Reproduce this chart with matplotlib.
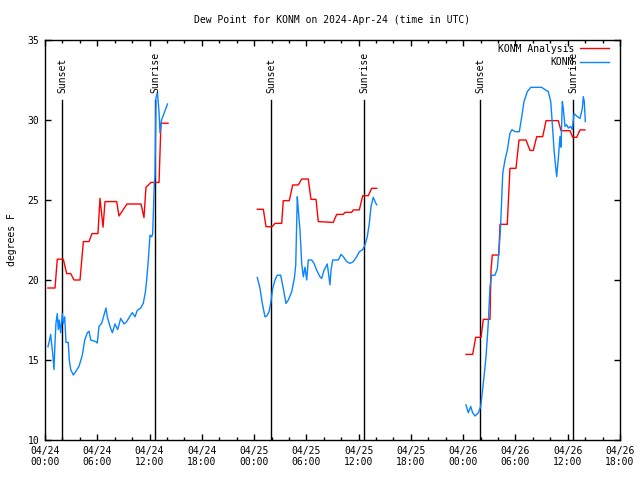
import numpy as np
import matplotlib
matplotlib.use("Agg")
import matplotlib.pyplot as plt
from matplotlib.ticker import MultipleLocator

nan = float("nan")

# hours since 2024-04-24 00:00 UTC, dew point in F; NaN splits the days
ana_hours = [0.34, 1.15, 1.41, 2.10, 2.49, 2.95, 3.33, 4.02, 4.40, 5.05, 5.39, 6.08, 6.31, 6.66,
             6.89, 8.23, 8.49, 9.41, 11.02, 11.36, 11.59, 12.17, 13.09, 13.31, 14.12, nan,
             24.37, 25.06, 25.37, 26.06, 26.40, 27.17, 27.35, 28.04, 28.43, 29.07, 29.47, 30.22,
             30.53, 31.11, 31.37, 33.09, 33.48, 34.24, 34.44, 35.20, 35.39, 36.08, 36.47, 37.11,
             37.50, 38.07, nan,
             48.32, 49.09, 49.44, 50.05, 50.31, 51.08, 51.19, 51.34, 52.08, 52.23, 53.06, 53.37,
             54.06, 54.41, 55.21, 55.67, 56.05, 56.44, 57.13, 57.51, 58.92, 59.23, 60.26, 60.57,
             61.03, 61.41, 61.98]
ana_dewp = [19.5, 19.5, 21.3, 21.3, 20.4, 20.4, 20.0, 20.0, 22.4, 22.4, 22.9, 22.9, 25.1, 23.3,
            24.9, 24.9, 24.0, 24.75, 24.75, 23.9, 25.8, 26.1, 26.1, 29.8, 29.8, nan,
            24.42, 24.42, 23.33, 23.33, 23.54, 23.54, 24.96, 24.96, 25.94, 25.94, 26.31, 26.31,
            25.04, 25.04, 23.65, 23.6, 24.1, 24.1, 24.23, 24.23, 24.38, 24.38, 25.27, 25.27,
            25.73, 25.73, nan,
            15.35, 15.35, 16.42, 16.42, 17.54, 17.54, 20.58, 21.56, 21.56, 23.48, 23.48, 26.98,
            26.98, 28.75, 28.75, 28.1, 28.1, 28.96, 28.96, 29.96, 29.96, 29.33, 29.33, 28.92,
            28.92, 29.38, 29.38]

obs_hours = [0.34, 0.46, 0.65, 0.80, 0.92, 1.03, 1.15, 1.26, 1.41, 1.53, 1.64, 1.80, 1.99, 2.10,
             2.26, 2.41, 2.67, 2.79, 2.95, 3.25, 3.52, 3.90, 4.28, 4.56, 4.86, 5.05, 5.25, 5.82,
             6.00, 6.20, 6.51, 6.77, 7.00, 7.15, 7.46, 7.73, 8.03, 8.34, 8.69, 9.07, 9.38, 9.76,
             10.02, 10.33, 10.59, 10.98, 11.28, 11.51, 11.67, 11.86, 12.05, 12.25, 12.36, 12.48,
             12.55, 12.63, 12.74, 12.91, 13.09, 13.20, 13.37, 13.66, 14.06, nan,
             24.37, 24.68, 24.94, 25.25, 25.45, 25.71, 25.91, 26.14, 26.40, 26.66, 27.05, 27.35,
             27.66, 27.93, 28.32, 28.62, 28.78, 28.96, 29.07, 29.27, 29.47, 29.65, 29.84, 30.04,
             30.22, 30.61, 30.88, 31.19, 31.57, 31.76, 32.02, 32.40, 32.52, 32.71, 32.83, 33.02,
             33.67, 33.98, 34.24, 34.63, 35.01, 35.39, 35.78, 36.08, 36.47, 36.73, 36.99, 37.22,
             37.42, 37.68, 37.88, 38.07, nan,
             48.32, 48.59, 48.86, 49.09, 49.36, 49.74, 50.01, 50.31, 50.62, 50.88, 51.08, 51.27,
             51.65, 51.92, 52.15, 52.31, 52.54, 52.80, 53.06, 53.37, 53.60, 53.95, 54.44, 54.72,
             54.98, 55.36, 55.75, 57.01, 57.39, 57.77, 58.05, 58.20, 58.42, 58.57, 58.73, 58.92,
             59.11, 59.23, 59.38, 59.49, 59.69, 59.88, 60.07, 60.34, 60.53, 60.72, 61.03, 61.41,
             61.67, 61.79, 61.90, 62.02]
obs_dewp = [15.83, 16.1, 16.6, 15.8, 15.2, 14.4, 16.1, 17.3, 17.9, 16.9, 17.5, 16.7, 17.9, 17.3,
            17.7, 16.1, 16.1, 15.0, 14.4, 14.06, 14.27, 14.6, 15.3, 16.25, 16.7, 16.8, 16.25, 16.15,
            16.06, 17.1, 17.3, 17.8, 18.25, 17.7, 17.1, 16.7, 17.25, 16.9, 17.6, 17.25, 17.4, 17.75,
            17.96, 17.7, 18.1, 18.25, 18.55, 19.2, 20.0, 21.25, 22.8, 22.7, 22.9, 25.0,
            26.06, 26.5, 31.4, 31.7, 30.5, 29.2, 30.0, 30.4, 31.0, nan,
            20.15, 19.48, 18.54, 17.7, 17.75, 18.0, 18.56, 19.48, 20.0, 20.3, 20.3, 19.48,
            18.54, 18.75, 19.27, 20.1, 20.94, 25.2, 24.4, 23.1, 21.0, 20.2, 20.8, 20.0,
            21.25, 21.25, 21.04, 20.6, 20.2, 20.1, 20.6, 21.0, 20.5, 19.7, 20.6, 21.25,
            21.25, 21.6, 21.46, 21.15, 21.04, 21.15, 21.46, 21.77, 21.9, 22.2, 22.7, 23.5,
            24.6, 25.17, 24.9, 24.7, nan,
            12.19, 11.7, 12.1, 11.7, 11.5, 11.7, 12.1, 13.54, 15.2, 17.3, 19.6, 20.3,
            20.3, 20.7, 22.1, 23.54, 26.67, 27.5, 28.1, 29.17, 29.4, 29.27, 29.27, 30.2,
            31.15, 31.77, 32.04, 32.04, 31.9, 31.77, 31.15, 30.0, 28.2, 27.3, 26.46, 27.6,
            28.96, 28.3, 31.15, 30.7, 29.6, 29.7, 29.5, 29.6, 29.4, 30.4, 30.25, 30.1,
            30.7, 31.46, 31.15, 29.9]

sunset_hours = [1.97, 25.97, 49.97]
sunrise_hours = [12.62, 36.62, 60.62]
tick_labels = ["04/24\n00:00", "04/24\n06:00", "04/24\n12:00", "04/24\n18:00",
               "04/25\n00:00", "04/25\n06:00", "04/25\n12:00", "04/25\n18:00",
               "04/26\n00:00", "04/26\n06:00", "04/26\n12:00", "04/26\n18:00"]

plt.rcParams['font.family'] = ['DejaVu Sans Mono']
plt.rcParams['font.size'] = 7

fig = plt.figure(figsize=(6.4, 4.8), dpi=100)
ax = fig.add_axes([45 / 640, 40 / 480, 575 / 640, 400 / 480])

for h in sunset_hours:
    ax.plot([h, h], [10, 31.25], color='black', lw=1)
    ax.text(h, 31.7, "Sunset", rotation=90, ha='center', va='bottom')
for h in sunrise_hours:
    ax.plot([h, h], [10, 31.25], color='black', lw=1)
    ax.text(h, 31.7, "Sunrise", rotation=90, ha='center', va='bottom')

ax.plot(ana_hours, ana_dewp, color='#ff0000', lw=1, label='KONM Analysis')
ax.plot(obs_hours, obs_dewp, color='#0a84ff', lw=1, label='KONM')

ax.set_xlim(0, 66)
ax.set_ylim(10, 35)
ax.set_xticks(np.arange(0, 67, 6))
ax.set_xticklabels(tick_labels)
ax.xaxis.set_minor_locator(MultipleLocator(2))
ax.set_yticks([10, 15, 20, 25, 30, 35])
ax.tick_params(which='both', direction='in', top=True, right=True, width=1)
ax.tick_params(which='major', length=4.5, pad=4)
ax.tick_params(which='minor', length=2.2)
ax.set_ylabel("degrees F", labelpad=8)
ax.set_title("Dew Point for KONM on 2024-Apr-24 (time in UTC)", fontsize=7, pad=12)
for s in ax.spines.values():
    s.set_linewidth(1)

leg = ax.legend(loc='upper right', bbox_to_anchor=(1 - 4 / 575, 1 + 3 / 400), frameon=False,
                markerfirst=False, handlelength=3, borderaxespad=0.3, labelspacing=0.35,
                handletextpad=0.6)
for t in leg.get_texts():
    t.set_ha('right')

fig.savefig("out.png", dpi=100)
